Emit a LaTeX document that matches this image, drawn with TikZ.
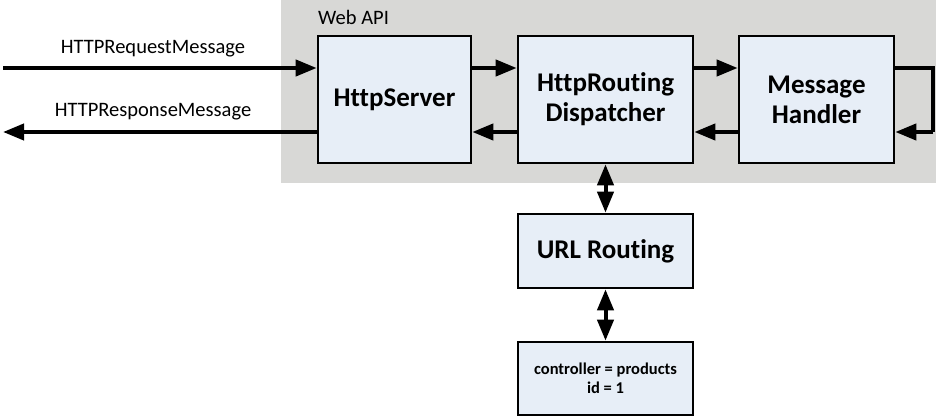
\documentclass[tikz,border=0pt]{standalone}
\usepackage{fontspec}
\setmainfont{Carlito}[Ligatures=NoCommon]
\usetikzlibrary{arrows.meta,calc}
\definecolor{apigray}{RGB}{216,216,214}
\definecolor{boxblue}{RGB}{231,238,247}
\tikzset{
  compbox/.style={draw=black, line width=2.6pt, fill=boxblue, inner sep=0pt, align=center,
    font=\fontsize{27}{30}\selectfont\bfseries},
  arr/.style={line width=4pt, -{Triangle[length=21pt,width=16pt]}},
  darr/.style={line width=4pt, {Triangle[length=21pt,width=16pt]}-{Triangle[length=21pt,width=16pt]}},
  loopline/.style={line width=4pt},
  lbl/.style={font=\fontsize{20.5}{24}\selectfont, inner sep=0pt},
}
\begin{document}
\begin{tikzpicture}[x=1pt,y=-1pt]
\useasboundingbox (0,0) rectangle (938,417);
\fill[white] (0,0) rectangle (938,417);
\fill[apigray] (281,0) rectangle (936,183);
\node[lbl, anchor=base west] (webapi) at (318,25) {Web API};
\coordinate (ytop) at (0,68);
\coordinate (ybot) at (0,132);
\node[compbox, minimum width=153pt, minimum height=127pt] (srv) at (394.5,99.5) {HttpServer};
\node[compbox, minimum width=175pt, minimum height=127pt] (disp) at (605.5,99.5) {HttpRouting\\Dispatcher};
\node[compbox, minimum width=155pt, minimum height=127pt] (mh) at (816.5,99.5) {Message\\Handler};
\node[compbox, minimum width=175pt, minimum height=74pt] (url) at (605.5,251) {URL Routing};
\node[compbox, minimum width=175pt, minimum height=73pt, font=\fontsize{16.5}{19}\selectfont\bfseries] (vals) at (605.5,378.5) {controller = products\\id = 1};
\coordinate (inpt) at (3,68);
\coordinate (outpt) at (3,132);
\coordinate (loopx) at (933,0);
\node[lbl, anchor=base] (reqlbl) at (153,54) {HTTPRequestMessage};
\node[lbl, anchor=base] (reslbl) at (153,117) {HTTPResponseMessage};
\draw[arr] (inpt) -- (srv.west |- ytop);
\draw[arr] (srv.west |- ybot) -- (outpt);
\draw[arr] (srv.east |- ytop) -- (disp.west |- ytop);
\draw[arr] (disp.west |- ybot) -- (srv.east |- ybot);
\draw[arr] (disp.east |- ytop) -- (mh.west |- ytop);
\draw[arr] (mh.west |- ybot) -- (disp.east |- ybot);
\draw[loopline] (mh.east |- ytop) -- (loopx |- ytop) -- (loopx |- ybot);
\draw[arr] (loopx |- ybot) -- (mh.east |- ybot);
\draw[darr] (disp.south) -- (url.north);
\draw[darr] (url.south) -- (vals.north);
\end{tikzpicture}
\end{document}
